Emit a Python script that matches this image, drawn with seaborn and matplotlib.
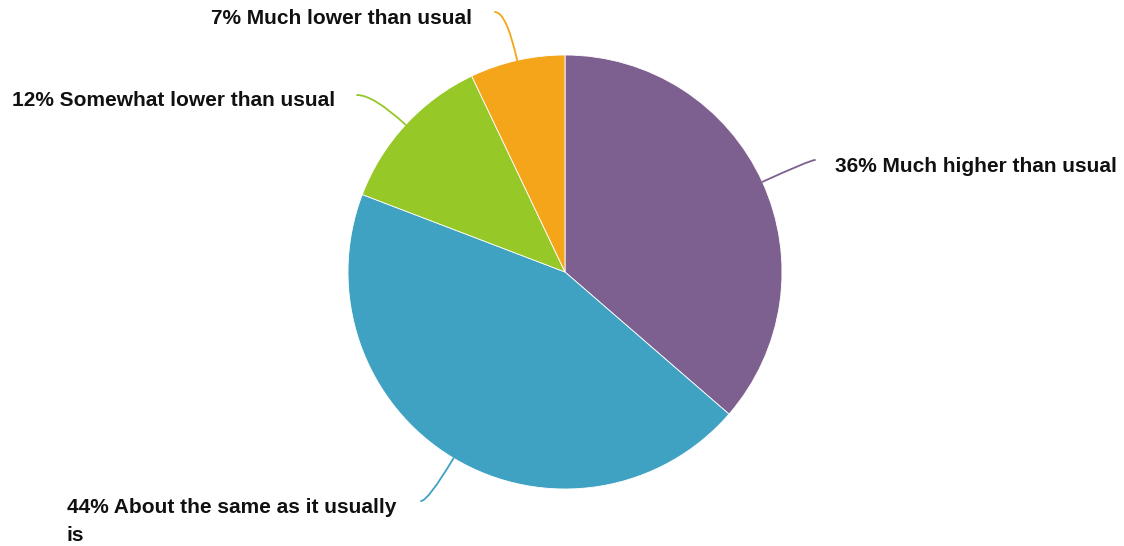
import numpy as np
import matplotlib
matplotlib.use("Agg")
import matplotlib.pyplot as plt
import seaborn as sns

labels = ["Much higher than usual", "About the same as it usually\nis",
          "Somewhat lower than usual", "Much lower than usual"]
values = [36, 44, 12, 7]
colors = ["#7e6090", "#40a2c2", "#96c828", "#f5a519"]

sns.set_theme(style="white")
plt.rcParams["font.family"] = ["Liberation Sans", "DejaVu Sans"]

fig = plt.figure(figsize=(11.24, 5.46), dpi=100)
ax = fig.add_axes([0, 0, 1, 1])

cx, cy, r = 565, 274, 217
wedges, _ = ax.pie(values, colors=colors, startangle=90, counterclock=False,
                   center=(cx, cy), radius=r, frame=True,
                   wedgeprops=dict(edgecolor="white", linewidth=0.6))
ax.set_xlim(0, 1124)
ax.set_ylim(0, 546)
ax.set_aspect("equal")
ax.axis("off")

# leader line end points and label anchors (pixel layout)
ends = [(815, 386), (421, 45), (357, 451), (495, 534)]
text_pos = [(835, 380, "left"), (67, 48, "left"), (335, 446, "right"), (472, 528, "right")]

for w, v, lab, c, e, tp in zip(wedges, values, labels, colors, ends, text_pos):
    mid = (w.theta1 + w.theta2) / 2
    x0 = cx + r * np.cos(np.radians(mid))
    y0 = cy + r * np.sin(np.radians(mid))
    ax.annotate("", xy=(x0, y0), xytext=e,
                arrowprops=dict(arrowstyle="-", color=c, lw=1.3,
                                shrinkA=0, shrinkB=0,
                                connectionstyle=f"angle3,angleA=0,angleB={mid}"))
    ax.text(tp[0], tp[1], f"{v}% {lab}", ha=tp[2], va="top" if "\n" in lab else "center",
            fontsize=15, fontweight="bold", color="#111111", linespacing=1.6)

fig.savefig("out.png", dpi=100)
